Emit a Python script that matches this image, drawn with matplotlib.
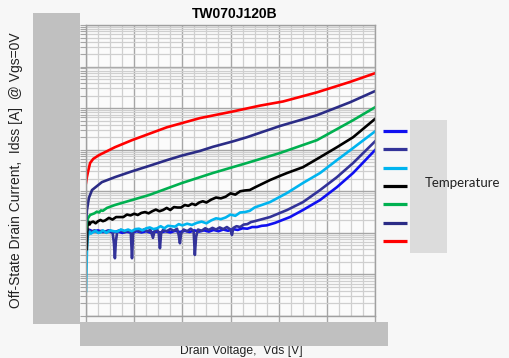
import matplotlib
matplotlib.use("Agg")
import matplotlib.pyplot as plt
from matplotlib.patches import Rectangle
from matplotlib.lines import Line2D
from matplotlib.ticker import MultipleLocator, LogLocator, NullFormatter
import numpy as np

# ---------------- data ----------------
title = "TW070J120B"
xlabel = "Drain Voltage,  Vds [V]"
ylabel = "Off-State Drain Current,  Idss [A]  @ Vgs=0V"
legend_title = "Temperature"

# Drain voltage [V] and log10(Idss [A]) for each temperature curve
v_red = [0, 4, 8, 17, 30, 54, 120, 191, 336, 473, 610, 722, 818, 959, 1096, 1200]
lg_red = [-6.80, -6.65, -6.54, -6.32, -6.22, -6.13, -5.94, -5.77, -5.46, -5.24,
          -5.08, -4.94, -4.84, -4.62, -4.37, -4.16]

v_navy = [0, 4, 12, 25, 66, 120, 191, 262, 336, 399, 473, 527, 610, 668, 805, 959, 1096, 1200]
lg_navy = [-7.76, -7.45, -7.16, -6.97, -6.78, -6.66, -6.52, -6.39, -6.25, -6.14, -6.03,
           -5.93, -5.80, -5.70, -5.43, -5.17, -4.86, -4.59]

v_green = [0, 3, 8, 17, 35, 45, 54, 62, 70, 87, 120, 191, 262, 328, 399, 527, 668, 805, 959, 1109, 1200]
lg_green = [-7.93, -7.75, -7.65, -7.57, -7.53, -7.49, -7.51, -7.46, -7.47, -7.40, -7.33,
            -7.21, -7.09, -6.95, -6.80, -6.56, -6.32, -6.08, -5.77, -5.29, -4.98]

v_black = [0, 3, 6, 10, 15, 20, 30, 40, 50, 60, 70, 80, 95, 110, 125, 140, 155, 170, 185,
           200, 215, 230, 245, 260, 275, 290, 305, 320, 335, 350, 365, 380, 395, 410, 425,
           440, 455, 470, 485, 500, 520, 540, 560, 580, 600, 620, 640, 660, 680, 700,
           764, 805, 835, 901, 972, 1042, 1109, 1200]
lg_black = [-7.72, -8.40, -7.80, -7.73, -7.80, -7.75, -7.73, -7.77, -7.72, -7.69, -7.72,
            -7.70, -7.64, -7.68, -7.62, -7.62, -7.62, -7.56, -7.58, -7.54, -7.57, -7.52,
            -7.50, -7.53, -7.48, -7.44, -7.48, -7.45, -7.40, -7.45, -7.38, -7.39, -7.39,
            -7.33, -7.35, -7.30, -7.33, -7.27, -7.24, -7.27, -7.20, -7.15, -7.17, -7.13,
            -7.05, -7.08, -7.00, -6.98, -6.97, -6.91, -6.73, -6.63, -6.56, -6.42, -6.18,
            -5.94, -5.70, -5.26]

v_lblue = [0, 2, 4, 7, 10, 15, 20, 30, 40, 50, 60, 70, 85, 100, 115, 130, 145, 160, 175,
           190, 205, 220, 235, 250, 265, 280, 295, 310, 325, 340, 355, 370, 385, 400, 420,
           440, 460, 480, 500, 520, 540, 560, 580, 600, 620, 640, 660, 680, 700,
           764, 835, 901, 972, 1042, 1109, 1200]
lg_lblue = [-9.40, -8.90, -8.40, -8.10, -8.02, -7.97, -8.02, -7.98, -7.95, -8.00, -7.99,
            -7.94, -8.00, -7.94, -7.96, -7.97, -7.92, -7.95, -7.92, -7.96, -7.91, -7.90,
            -7.94, -7.89, -7.87, -7.91, -7.89, -7.84, -7.89, -7.83, -7.84, -7.85, -7.79,
            -7.82, -7.78, -7.81, -7.76, -7.73, -7.77, -7.70, -7.65, -7.67, -7.63, -7.56,
            -7.59, -7.51, -7.50, -7.47, -7.39, -7.26, -7.04, -6.80, -6.56, -6.25, -5.96,
            -5.56]

v_slate = [0, 10, 20, 35, 50, 65, 80, 95, 110, 116, 120, 124, 130, 145, 160, 175, 186, 191,
           196, 210, 225, 240, 255, 268, 278, 285, 295, 302, 307, 312, 320, 335, 350, 365,
           378, 385, 390, 395, 405, 420, 435, 447, 452, 457, 465, 480, 495, 510, 525, 540,
           555, 570, 585, 600, 606, 612, 625, 640, 655, 670, 685, 700,
           764, 835, 901, 972, 1042, 1109, 1200]
lg_slate = [-7.95, -7.92, -7.98, -7.94, -7.99, -7.95, -7.98, -7.94, -7.97, -8.25, -8.61,
            -8.20, -7.96, -7.93, -7.98, -7.94, -7.98, -8.61, -7.97, -7.93, -7.97, -7.92,
            -7.96, -7.93, -8.12, -7.95, -7.92, -8.00, -8.37, -8.00, -7.93, -7.96, -7.91,
            -7.95, -7.90, -8.05, -8.25, -8.02, -7.92, -7.96, -7.90, -7.96, -8.53, -8.10,
            -7.92, -7.95, -7.89, -7.93, -7.88, -7.92, -7.87, -7.91, -7.86, -7.92, -8.05,
            -7.88, -7.84, -7.86, -7.80, -7.79, -7.74, -7.72, -7.62, -7.45, -7.26, -6.97,
            -6.66, -6.32, -5.80]

v_blue = [0, 15, 30, 50, 70, 90, 110, 130, 150, 170, 190, 210, 230, 250, 270, 290, 310,
          330, 350, 370, 390, 410, 430, 450, 470, 490, 510, 530, 550, 570, 590, 610, 630,
          650, 670, 690, 710, 730, 750, 785, 847, 901, 972, 1042, 1109, 1200]
lg_blue = [-7.96, -7.93, -7.97, -7.94, -7.98, -7.95, -7.99, -7.96, -8.00, -7.97, -8.00,
           -7.96, -7.99, -7.96, -8.00, -7.97, -7.99, -7.96, -7.99, -7.95, -7.98, -7.95,
           -7.98, -7.94, -7.97, -7.94, -7.97, -7.93, -7.96, -7.92, -7.95, -7.91, -7.93,
           -7.89, -7.90, -7.86, -7.86, -7.83, -7.82, -7.76, -7.62, -7.45, -7.21, -6.90,
           -6.56, -6.01]

# legend order (top to bottom) and colours
c_blue = "#1010f0"
c_slate = "#333399"
c_lblue = "#00b4ef"
c_black = "#000000"
c_green = "#00b050"
c_navy = "#2b2c86"
c_red = "#ff0000"
legend_colors = [c_blue, c_slate, c_lblue, c_black, c_green, c_navy, c_red]

x_min, x_max = 0, 1200
y_min, y_max = 1e-10, 1e-3

# ---------------- figure ----------------
W, H = 510, 358
fig = plt.figure(figsize=(W / 100, H / 100), dpi=100)
fig.patch.set_facecolor("#f7f7f7")

def fx(px):
    return px / W

def fy(py):
    return 1 - py / H

ax_l, ax_r, ax_t, ax_b = 86, 375, 25, 316
ax = fig.add_axes([fx(ax_l), fy(ax_b), (ax_r - ax_l) / W, (ax_b - ax_t) / H])
ax.set_facecolor("#fbfbfb")
ax.set_yscale("log")
ax.set_xlim(x_min, x_max)
ax.set_ylim(y_min, y_max)

ax.xaxis.set_major_locator(MultipleLocator(200))
ax.xaxis.set_minor_locator(MultipleLocator(50))
ax.yaxis.set_major_locator(LogLocator(base=10, numticks=20))
ax.yaxis.set_minor_locator(LogLocator(base=10, subs=np.arange(2, 10), numticks=100))
ax.yaxis.set_minor_formatter(NullFormatter())

ax.grid(which="major", color="#a6a6a6", linewidth=1.0)
ax.grid(which="minor", color="#cfcfcf", linewidth=0.9)
ax.set_axisbelow(True)
ax.tick_params(which="both", labelleft=False, labelbottom=False, color="#a6a6a6")
ax.tick_params(axis="x", which="major", length=4, width=1)
ax.tick_params(axis="x", which="minor", length=0)
ax.tick_params(axis="y", which="both", length=4, width=0.8)
for s in ax.spines.values():
    s.set_color("#a0a0a0")
    s.set_linewidth(1.0)

lw = 1.9
curves = [
    (v_blue, lg_blue, c_blue),
    (v_slate, lg_slate, c_slate),
    (v_lblue, lg_lblue, c_lblue),
    (v_black, lg_black, c_black),
    (v_green, lg_green, c_green),
    (v_navy, lg_navy, c_navy),
    (v_red, lg_red, c_red),
]
for v, lg, c in curves:
    ax.plot(v, 10 ** np.asarray(lg), color=c, linewidth=lw, solid_joinstyle="round")

# ---------------- redaction boxes ----------------
def box(x0, y0, x1, y1, color):
    fig.patches.append(Rectangle((fx(x0), fy(y1)), (x1 - x0) / W, (y1 - y0) / H,
                                 transform=fig.transFigure, facecolor=color,
                                 edgecolor="none", zorder=5))

box(33, 13, 80, 324, "#c0c0c0")
box(80, 322, 388, 346, "#c0c0c0")
box(410, 120, 447, 253, "#dcdcdc")

# ---------------- texts ----------------
fig.text(fx(235), fy(14), title, ha="center", va="center", fontsize=10,
         fontweight="bold", family="Liberation Sans")
fig.text(fx(16), fy(170), ylabel, ha="center", va="center", rotation=90,
         fontsize=10, family="Liberation Sans", color="#222222")
fig.text(fx(241), fy(345), xlabel, ha="center", va="top", fontsize=8.7,
         family="Liberation Sans", color="#222222")
fig.text(fx(425), fy(183), legend_title, ha="left", va="center", fontsize=9.5,
         family="Lato", color="#222222", zorder=6)

# ---------------- legend keys ----------------
legend_y = [131, 149, 168, 186, 204, 223, 241]
for yy, c in zip(legend_y, legend_colors):
    fig.lines.append(Line2D([fx(383), fx(407)], [fy(yy), fy(yy)], transform=fig.transFigure,
                            color=c, linewidth=2.3, solid_capstyle="butt"))

fig.savefig("out.png", dpi=100, facecolor=fig.get_facecolor())
